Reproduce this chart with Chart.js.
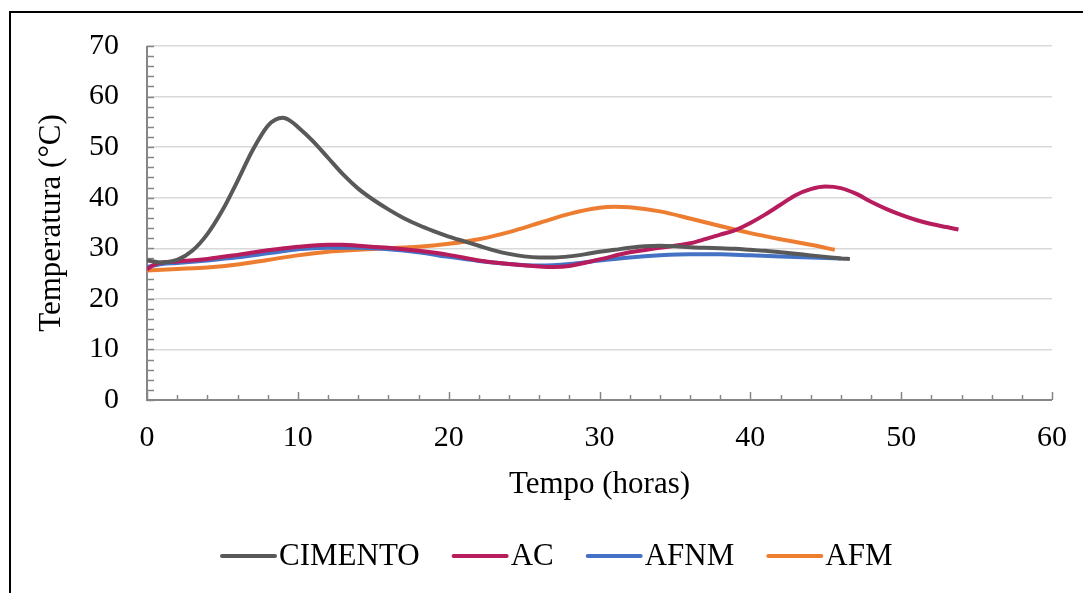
<!DOCTYPE html>
<html>
<head>
<meta charset="utf-8">
<script src="https://cdn.jsdelivr.net/npm/chart.js@4"></script>
<style>
  html, body { margin: 0; padding: 0; background: #fff; }
  #wrap { position: relative; width: 1083px; height: 593px; overflow: hidden; }
  #frame { position: absolute; left: 9px; top: 11px; width: 1200px; height: 700px;
           border-left: 2px solid #000; border-top: 2px solid #000; }
  canvas { position: absolute; left: 0; top: 0; }
</style>
</head>
<body>
<div id="wrap">
  <div id="frame"></div>
  <canvas id="chart" width="1083" height="593"></canvas>
</div>
<script>
// Series (time in hours, temperature in °C)
const seriesNames = ['CIMENTO', 'AC', 'AFNM', 'AFM'];
const seriesColors = ['#595959', '#b71c5c', '#4472c4', '#ed7d31'];

const cimentoTime = [0, 1, 2, 3, 4, 5, 6, 7, 8, 8.5, 9, 9.5, 10, 11, 12, 13, 14, 15, 16, 17, 18, 19, 20, 21, 22, 23, 24, 25, 26, 27, 28, 29, 30, 31, 32, 33, 34, 35, 36, 37, 38, 39, 40, 41, 42, 43, 44, 45, 46, 46.6];
const cimentoTemp = [27.6, 27.2, 27.7, 29.5, 32.8, 37.5, 43.3, 49.4, 54.2, 55.4, 55.8, 55.2, 54, 51.2, 47.9, 44.6, 41.8, 39.6, 37.7, 36, 34.6, 33.4, 32.3, 31.4, 30.5, 29.6, 28.9, 28.4, 28.2, 28.2, 28.4, 28.8, 29.3, 29.7, 30.1, 30.4, 30.5, 30.4, 30.2, 30.1, 30, 29.9, 29.7, 29.5, 29.2, 28.9, 28.6, 28.3, 28.0, 27.9];

const acTime = [0, 0.5, 1, 2, 4, 6, 8, 10, 12, 13, 14, 16, 18, 20, 22, 24, 26, 27, 28, 30, 32, 34, 36, 37, 38, 39, 40, 41, 42, 43, 44, 45, 46, 47, 48, 49, 50, 51, 52, 53, 53.8];
const acTemp = [25.8, 26.8, 27.2, 27.4, 27.9, 28.7, 29.6, 30.3, 30.7, 30.7, 30.5, 30.1, 29.5, 28.7, 27.6, 26.9, 26.4, 26.3, 26.5, 27.8, 29.2, 30.1, 31, 31.8, 32.7, 33.6, 35, 36.7, 38.6, 40.5, 41.7, 42.2, 41.9, 40.8, 39.2, 37.8, 36.6, 35.6, 34.8, 34.2, 33.7];

const afnmTime = [0, 1, 2, 4, 6, 8, 10, 12, 14, 16, 18, 20, 22, 24, 26, 28, 30, 32, 34, 36, 38, 40, 42, 44, 46];
const afnmTemp = [26.3, 26.9, 27.1, 27.6, 28.2, 29.0, 29.8, 30.1, 30.1, 29.8, 29.2, 28.3, 27.5, 26.9, 26.6, 26.9, 27.6, 28.2, 28.6, 28.8, 28.8, 28.6, 28.4, 28.2, 28.0];

const afmTime = [0, 2, 4, 6, 8, 10, 12, 14, 16, 18, 20, 22, 24, 26, 28, 30, 31, 32, 34, 36, 38, 40, 42, 44, 45.6];
const afmTemp = [25.6, 25.9, 26.2, 26.8, 27.7, 28.6, 29.3, 29.7, 30.0, 30.3, 30.9, 31.8, 33.2, 35, 36.8, 38.0, 38.2, 38.1, 37.3, 35.9, 34.4, 33.0, 31.8, 30.7, 29.7];

const xTicks = [0, 10, 20, 30, 40, 50, 60];
const yTicks = [0, 10, 20, 30, 40, 50, 60, 70];

const seriesTimes = [cimentoTime, acTime, afnmTime, afmTime];
const seriesTemps = [cimentoTemp, acTemp, afnmTemp, afmTemp];

const FONT = "'Liberation Serif', 'Times New Roman', serif";
const AXIS_COLOR = '#868686';

// Excel-style axes: gray line with inward major/minor tick marks
const axisPlugin = {
    id: 'axisPlugin',
    beforeDatasetsDraw(chart) {
        const { ctx, chartArea: a, scales: { x, y } } = chart;
        ctx.save();
        ctx.strokeStyle = AXIS_COLOR;
        ctx.lineWidth = 2;
        ctx.beginPath();
        ctx.moveTo(a.left, a.top);
        ctx.lineTo(a.left, a.bottom);
        ctx.lineTo(a.right, a.bottom);
        ctx.stroke();
        ctx.lineWidth = 1.5;
        ctx.beginPath();
        for (let v = x.min; v <= x.max; v += 2) {
            const px = Math.round(x.getPixelForValue(v)) + 0.5;
            const len = v % 10 === 0 ? 8 : 5;
            ctx.moveTo(px, a.bottom);
            ctx.lineTo(px, a.bottom - len);
        }
        for (let v = y.min; v <= y.max; v += 2) {
            const py = Math.round(y.getPixelForValue(v)) + 0.5;
            ctx.moveTo(a.left, py);
            ctx.lineTo(a.left + 7, py);
        }
        ctx.stroke();
        ctx.restore();
    }
};

// Legend drawn as line samples followed by labels, in one row
const legendPlugin = {
    id: 'legendPlugin',
    afterDraw(chart) {
        const { ctx } = chart;
        ctx.save();
        ctx.font = '31px ' + FONT;
        ctx.textBaseline = 'middle';
        ctx.fillStyle = '#000';
        const yMid = 556;
        let xPos = 222;
        chart.data.datasets.forEach(ds => {
            ctx.strokeStyle = ds.borderColor;
            ctx.lineWidth = 4;
            ctx.lineCap = 'round';
            ctx.beginPath();
            ctx.moveTo(xPos, yMid);
            ctx.lineTo(xPos + 53, yMid);
            ctx.stroke();
            xPos += 57;
            ctx.fillText(ds.label, xPos, yMid + 1);
            xPos += ctx.measureText(ds.label).width + 34;
        });
        ctx.restore();
    }
};

const datasets = seriesNames.map((name, i) => ({
    label: name,
    data: seriesTimes[i].map((t, k) => ({ x: t, y: seriesTemps[i][k] })),
    borderColor: seriesColors[i],
    backgroundColor: seriesColors[i],
    borderWidth: 4,
    pointRadius: 0,
    cubicInterpolationMode: 'monotone',
    fill: false
}));

new Chart(document.getElementById('chart'), {
    type: 'line',
    data: { datasets },
    options: {
        responsive: false,
        animation: false,
        devicePixelRatio: 1,
        layout: { padding: { left: 20, top: 44, right: 31, bottom: 90 } },
        plugins: {
            legend: { display: false },
            tooltip: { enabled: false }
        },
        scales: {
            x: {
                type: 'linear',
                min: 0,
                max: 60,
                afterBuildTicks: s => { s.ticks = xTicks.map(v => ({ value: v })); },
                afterFit: s => { s.height = 103; s.paddingLeft = 0; s.paddingRight = 0; },
                grid: { display: false, drawTicks: false },
                border: { display: false },
                ticks: { color: '#000', padding: 20, font: { family: FONT, size: 30 } },
                title: {
                    display: true,
                    text: 'Tempo (horas)',
                    color: '#000',
                    padding: 0,
                    font: { family: FONT, size: 31 }
                }
            },
            y: {
                min: 0,
                max: 70,
                afterBuildTicks: s => { s.ticks = yTicks.map(v => ({ value: v })); },
                afterFit: s => { s.width = 127; },
                grid: { color: '#d9d9d9', lineWidth: 1.5, drawTicks: false },
                border: { display: false },
                ticks: { color: '#000', padding: 28, font: { family: FONT, size: 30 } },
                title: {
                    display: true,
                    text: 'Temperatura (°C)',
                    color: '#000',
                    padding: { top: 13, bottom: 0 },
                    font: { family: FONT, size: 31 }
                }
            }
        }
    },
    plugins: [axisPlugin, legendPlugin]
});
</script>
</body>
</html>
